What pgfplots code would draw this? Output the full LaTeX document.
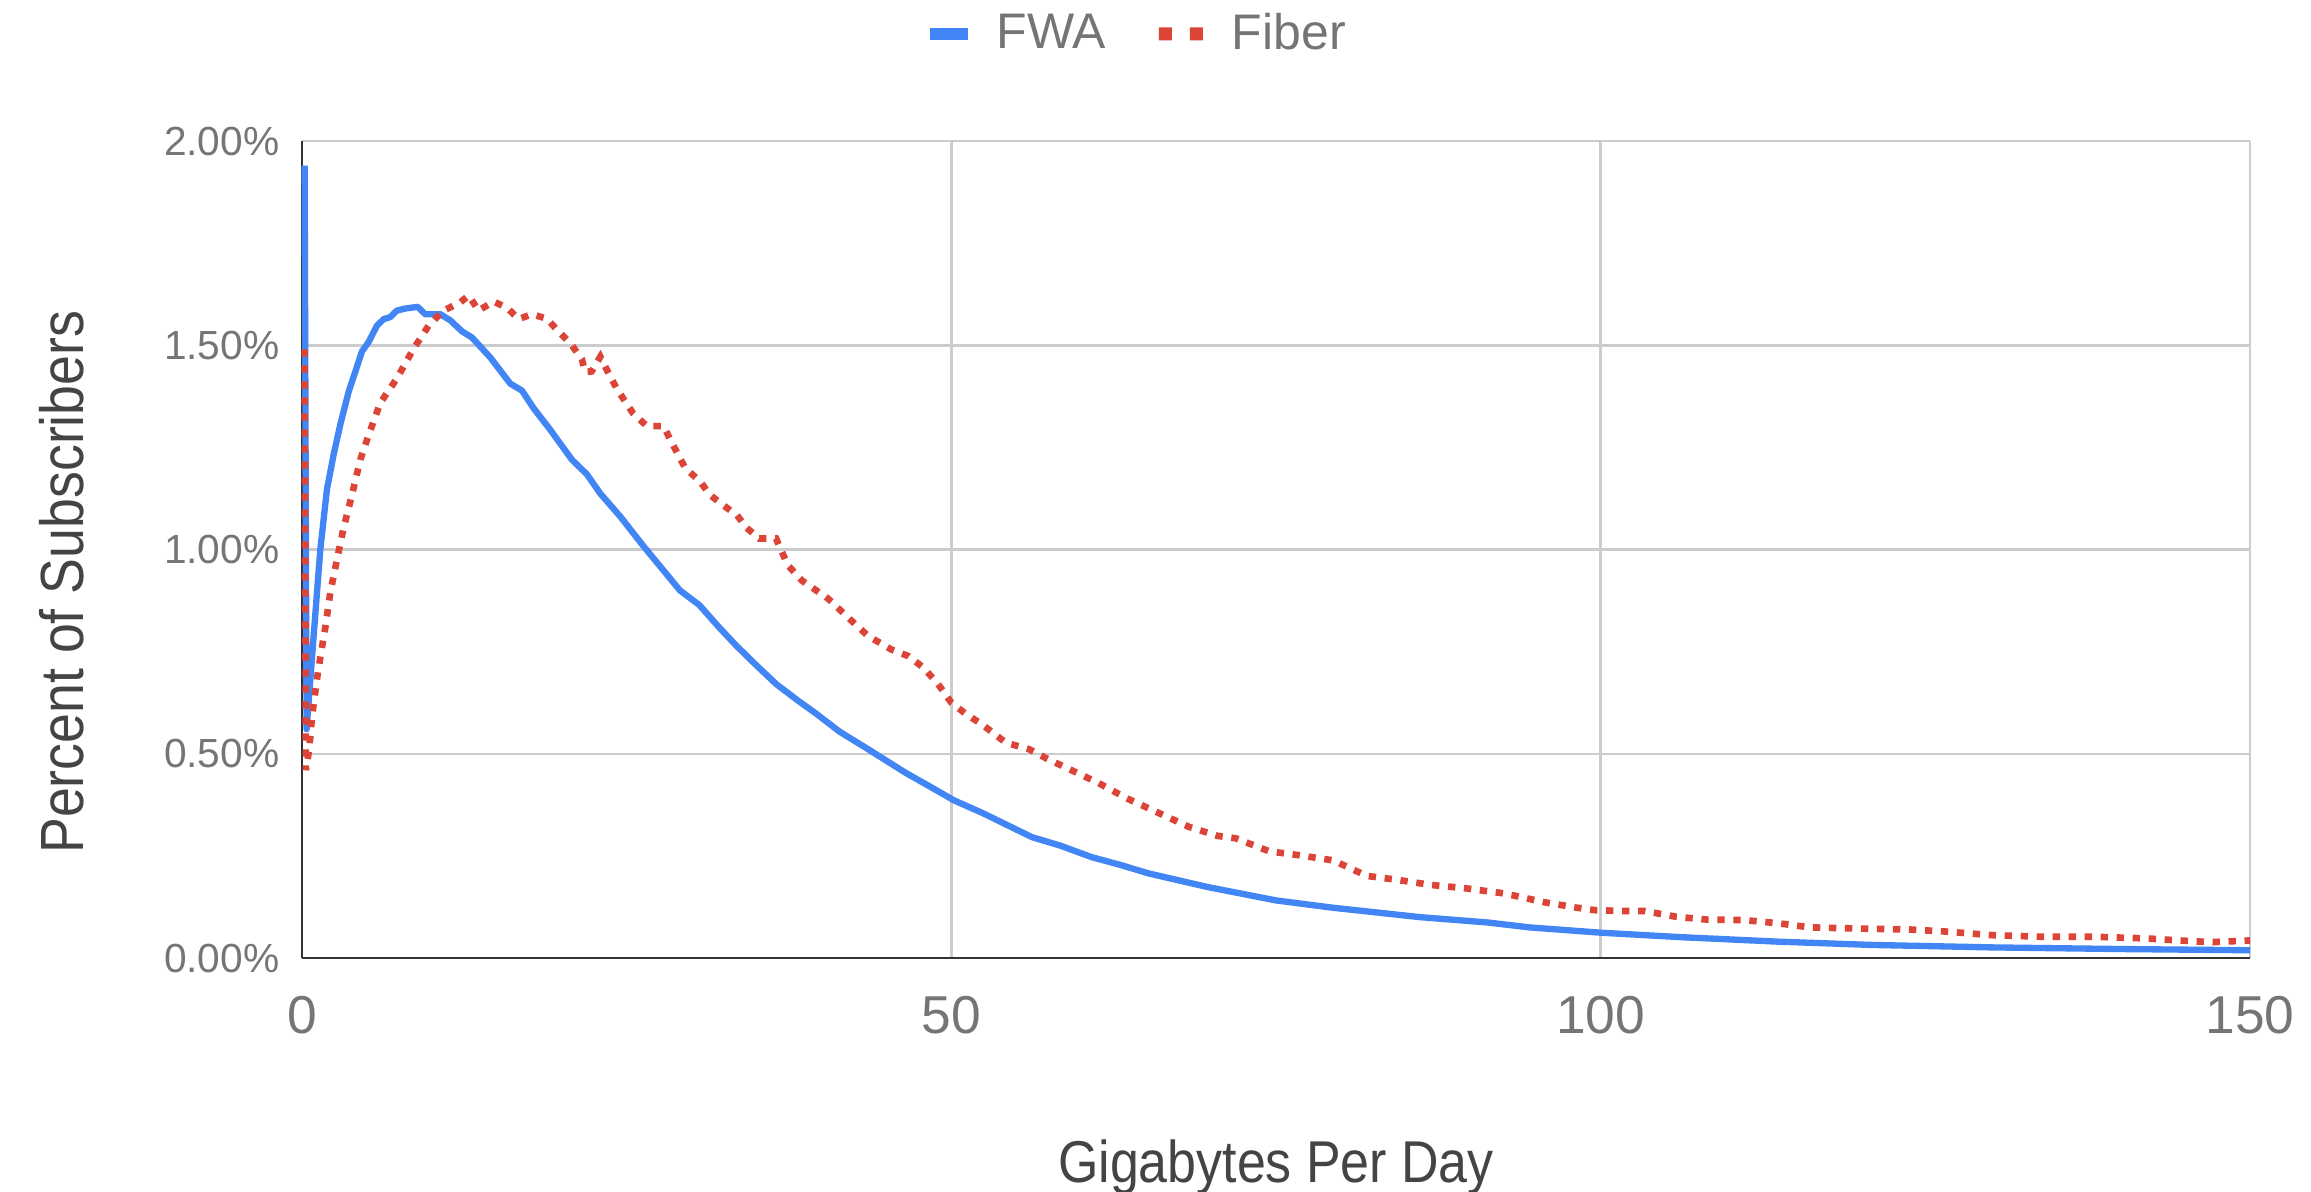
\documentclass[border=0pt]{standalone}
\usepackage{fontspec}
\setmainfont{Liberation Sans}
\newfontfamily\condfont[FakeStretch=0.88]{Liberation Sans}
\usepackage{pgfplots}
\pgfplotsset{compat=1.18}

\definecolor{fwablue}{HTML}{4285F4}
\definecolor{fiberred}{HTML}{DB4437}
\definecolor{gridgray}{HTML}{CCCCCC}
\definecolor{axisdark}{HTML}{333333}
\definecolor{tickgray}{HTML}{757575}
\definecolor{labelgray}{HTML}{444444}

\begin{document}
\begin{tikzpicture}
\useasboundingbox (0,0) rectangle (693.3pt,357.3pt);
\begin{axis}[
  at={(90.6pt,69.9pt)}, anchor=south west,
  scale only axis, width=584.4pt, height=245.1pt,
  xmin=0, xmax=150, ymin=0, ymax=2,
  clip=false,
  axis x line*=bottom, axis y line*=left,
  axis line style={axisdark, line width=0.8pt},
  grid=major, major grid style={gridgray, line width=0.75pt},
  major tick length=0pt,
  xtick={0,50,100,150}, xticklabels={0,50,100,150},
  ytick={0,0.5,1,1.5,2},
  yticklabels={0.00\%,0.50\%,1.00\%,1.50\%,2.00\%},
  xticklabel style={font=\fontsize{16pt}{18pt}\selectfont, text=tickgray,
    anchor=north, inner sep=0pt, yshift=-11.4pt},
  yticklabel style={font=\fontsize{12.2pt}{14pt}\selectfont, text=tickgray,
    anchor=east, inner sep=0pt, xshift=-6.6pt},
  xlabel={Gigabytes Per Day},
  ylabel={Percent of Subscribers},
  xlabel style={at={(axis description cs:0.5,0)}, anchor=north,
    yshift=-54.3pt, inner sep=0pt,
    font=\condfont\fontsize{17.7pt}{19pt}\selectfont, text=labelgray},
  ylabel style={at={(axis description cs:-0.1232,0.460)}, anchor=center,
    inner sep=0pt, font=\condfont\fontsize{18.3pt}{20pt}\selectfont, text=labelgray},
  legend columns=2,
  legend cell align=left,
  legend style={at={(axis description cs:0.429,1.131)}, anchor=center,
    draw=none, fill=none,
    font=\fontsize{15pt}{17pt}\selectfont,
    nodes={inner sep=0pt, text=tickgray},
    /tikz/every odd column/.append style={column sep=8.7pt},
    /tikz/every even column/.append style={column sep=15.9pt}},
]

% Fixed wireless access
\addplot[fwablue, line width=1.9pt, line join=round,
  legend image code/.code={%
    \path[fill=fwablue, draw=none, solid, sharp corners]
      (0pt,-1.9pt) rectangle (11.4pt,1.9pt);}]
coordinates {
(0.2,1.94) (0.35,0.56) (0.9,0.79) (1.41,1.0) (1.92,1.147) (2.44,1.233)
(2.95,1.306) (3.59,1.386) (4.62,1.485) (5.13,1.508) (5.77,1.548) (6.29,1.564)
(6.8,1.569) (7.31,1.585) (7.96,1.59) (8.9,1.594) (9.49,1.576) (10.65,1.576)
(11.42,1.561) (12.32,1.534) (13.09,1.519) (14.5,1.47) (16.04,1.406) (16.94,1.389)
(17.83,1.346) (19.12,1.293) (20.78,1.22) (21.94,1.184) (22.97,1.137) (24.5,1.081)
(26.3,1.008) (29.1,0.90) (30.6,0.864) (32.1,0.81) (33.4,0.766) (34.97,0.717)
(36.5,0.671) (38.07,0.633) (39.6,0.598) (41.4,0.554) (43.6,0.511) (46.5,0.453)
(48.45,0.418) (50.2,0.386) (52.4,0.355) (56.2,0.296) (58.4,0.275) (60.8,0.247)
(63.0,0.228) (65.2,0.207) (69.7,0.174) (75.0,0.141) (79.4,0.123) (86.1,0.100)
(91.3,0.087) (94.5,0.075) (100,0.062) (106.2,0.051) (113.7,0.040) (120.9,0.032)
(130.1,0.026) (140,0.022) (150,0.019)
};
\addlegendentry{FWA}

% Fiber
\addplot[fiberred, line width=2pt, dash pattern=on 2.2pt off 2.6pt,
  legend image code/.code={%
    \path[fill=fiberred, draw=none, solid, sharp corners]
      (0pt,-1.95pt) rectangle (3.9pt,1.95pt)
      (9.3pt,-1.95pt) rectangle (13.2pt,1.95pt);}]
coordinates {
(0.2,1.49) (0.3,0.46) (0.55,0.51) (0.77,0.59) (1.15,0.683) (1.41,0.736)
(1.80,0.81) (2.18,0.895) (2.69,0.975) (3.21,1.054) (3.85,1.134) (4.49,1.22)
(5.13,1.28) (6.03,1.359) (7.31,1.419) (8.6,1.492) (9.75,1.548) (10.9,1.585)
(12.19,1.605) (12.83,1.622) (13.6,1.585) (14.75,1.607) (15.78,1.592) (16.68,1.564)
(17.7,1.576) (18.86,1.565) (19.63,1.538) (20.66,1.505) (21.55,1.466) (21.8,1.435)
(22.3,1.436) (22.97,1.472) (23.6,1.432) (24.25,1.393) (25.5,1.333) (26.56,1.302)
(27.84,1.302) (28.5,1.26) (29.5,1.2) (30.7,1.165) (31.4,1.134) (32.5,1.107)
(33.5,1.084) (34.2,1.054) (35.2,1.027) (36.5,1.027) (37.4,0.962) (38.5,0.924)
(40.5,0.88) (42.3,0.826) (43.6,0.788) (45.4,0.755) (46.7,0.739) (47.8,0.712)
(48.9,0.674) (50.0,0.625) (51.1,0.598) (52.4,0.571) (54.2,0.527) (56.0,0.511)
(57.3,0.489) (59.1,0.462) (61.3,0.429) (63.5,0.391) (65.7,0.359) (68.3,0.321)
(70.5,0.299) (71.9,0.293) (74.5,0.261) (76.7,0.252) (79.4,0.239) (82.0,0.201)
(84.2,0.192) (86.9,0.179) (89.5,0.171) (92.6,0.158) (95.6,0.137) (98.2,0.123)
(99.6,0.117) (102,0.115) (103.4,0.115) (105.8,0.101) (108.2,0.094) (111,0.093)
(113.7,0.085) (116.1,0.075) (120.1,0.072) (123.7,0.070) (126.5,0.065) (130.1,0.056)
(134.1,0.052) (138,0.052) (142,0.048) (145.6,0.041) (147.2,0.039) (150,0.043)
};
\addlegendentry{Fiber}

\end{axis}
\end{tikzpicture}
\end{document}
